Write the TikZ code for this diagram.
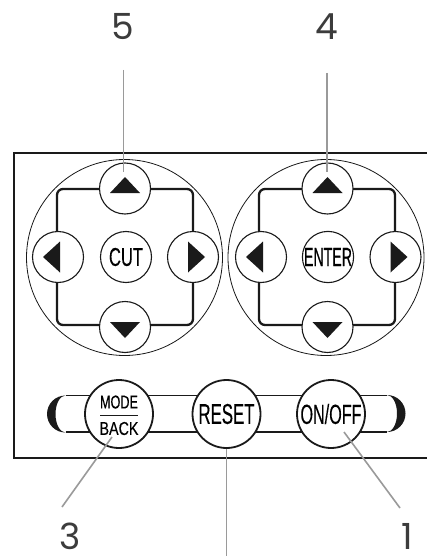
\documentclass[tikz,border=0pt]{standalone}
\usepackage{fontspec}
\usepackage{graphicx}
\usetikzlibrary{calc}
\newfontfamily\numfont{Poppins}
\newfontfamily\lblfont[FakeBold=0.4]{Liberation Sans}
\newcommand{\lbl}[3]{\resizebox{#1pt}{#2pt}{\lblfont #3}}
\definecolor{ink}{HTML}{1A1A1A}
\definecolor{lead}{HTML}{9A9A9A}
\begin{document}
\begin{tikzpicture}[x=1pt,y=-1pt,
  btn/.style={circle,draw=ink,fill=white,minimum size=51pt,inner sep=0pt,line width=1.1pt},
  bigbtn/.style={circle,draw=ink,fill=white,minimum size=68pt,inner sep=0pt,line width=1.8pt},
  ring/.style={circle,draw=ink,minimum size=196pt,inner sep=0pt,line width=0.8pt},
  frame/.style={rounded corners=6pt,draw=ink,line width=2.3pt},
  leadline/.style={draw=lead,line width=1.6pt},
  num/.style={font=\numfont\fontsize{36}{36}\selectfont,text=ink!85,inner sep=0pt,anchor=base},
  tri/.style={fill=ink}]
\clip (0,0) rectangle (427,556);
\fill[white] (0,0) rectangle (427,556);
% panel
\draw[ink,line width=1.8pt] (440,153) -- (14,153) -- (14,458) -- (440,458);
% big rings
\node[ring] (ringL) at (124.5,257.5) {};
\node[ring] (ringR) at (326,257.5) {};
% frames
\draw[frame] (57,189) rectangle (193,325);
\draw[frame] (259,189) rectangle (395,325);
% left cluster
\node[btn] (uL) at (125,188.5) {};
\node[btn] (dL) at (125,327) {};
\node[btn] (lL) at (58,257) {};
\node[btn] (rL) at (193,257) {};
\node[btn] (cut) at (126,257) {\lbl{34}{18}{CUT}};
% right cluster
\node[btn] (uR) at (327.5,188.5) {};
\node[btn] (dR) at (327.5,327) {};
\node[btn] (lR) at (261,257) {};
\node[btn] (rR) at (395.5,257) {};
\node[btn] (enter) at (328,257) {\lbl{48}{18}{ENTER}};
% triangles
\foreach \n in {uL,uR} \fill[tri,shift={(\n.center)}] (-15,4.5) -- (15,4.5) -- (0,-11.5) -- cycle;
\foreach \n in {dL,dR} \fill[tri,shift={(\n.center)}] (-15,-5) -- (15,-5) -- (0,11) -- cycle;
\foreach \n in {lL,lR} \fill[tri,shift={(\n.center)}] (2,-15.5) -- (2,15.5) -- (-15,0) -- cycle;
\foreach \n in {rL,rR} \fill[tri,shift={(\n.center)}] (-5,-15.5) -- (-5,15.5) -- (12,0) -- cycle;
% capsule
\draw[ink,line width=1.1pt] (65.5,395.5) -- (387,395.5) (65.5,432) -- (387,432);
\fill[ink] (65.5,432.5) arc[start angle=90,end angle=270,radius=18.5]
  arc[start angle=270,end angle=90,x radius=10,y radius=18.5] -- cycle;
\fill[ink] (387,395) arc[start angle=-90,end angle=90,radius=18.5]
  arc[start angle=90,end angle=-90,x radius=10,y radius=18.5] -- cycle;
% bottom buttons
\node[bigbtn] (mode) at (119,414) {};
\node[inner sep=0pt] (modetxt) at (119,402) {\lbl{38}{13}{MODE}};
\node[inner sep=0pt] (backtxt) at (119,428.5) {\lbl{39}{13}{BACK}};
\draw[ink,line width=0.8pt] (100,415) -- (138,415);
\node[bigbtn] (reset) at (226.5,414) {\lbl{56}{20}{RESET}};
\node[bigbtn] (onoff) at (331,414) {\lbl{61}{20}{ON/OFF}};
% numbers
\node[num] (n5) at (123,40) {5};
\node[num] (n4) at (327,40) {4};
\node[num] (n3) at (70,549) {3};
\node[num] (n1) at (407,549) {1};
% leader lines
\coordinate (a5) at (123.5,70);  \coordinate (b5) at (123.5,172);
\coordinate (a4) at (327,73);    \coordinate (b4) at (327,172);
\coordinate (a3) at (62,507);    \coordinate (b3) at (112,437);
\coordinate (a1) at (400,508);   \coordinate (b1) at (344,432);
\coordinate (ar) at (226.5,449); \coordinate (br) at (226.5,560);
\draw[leadline] (a5) -- (b5);
\draw[leadline] (a4) -- (b4);
\draw[leadline] (a3) -- (b3);
\draw[leadline] (a1) -- (b1);
\draw[leadline] (ar) -- (br);
\end{tikzpicture}
\end{document}
